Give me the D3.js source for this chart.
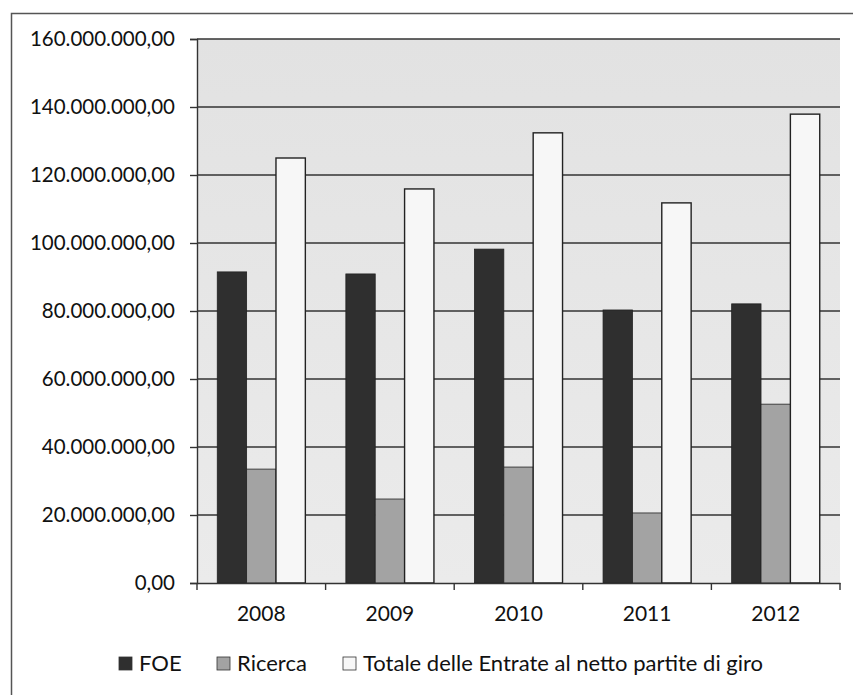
<!DOCTYPE html>
<html>
<head>
<meta charset="utf-8">
<script src="https://cdn.jsdelivr.net/npm/d3@7"></script>
<style>
  body { margin: 0; background: #fff; }
  text { font-family: Lato, "Open Sans", sans-serif; fill: #111; }
</style>
</head>
<body>
<script>
// data
const years = ['2008', '2009', '2010', '2011', '2012'];
const foe = [91.5e6, 90.9e6, 98.2e6, 80.3e6, 82.1e6];
const ricerca = [33.5e6, 24.7e6, 34.1e6, 20.6e6, 52.6e6];
const totale = [125.0e6, 115.9e6, 132.4e6, 111.8e6, 137.9e6];
const seriesNames = ['FOE', 'Ricerca', 'Totale delle Entrate al netto partite di giro'];
const yTicks = [0, 20e6, 40e6, 60e6, 80e6, 100e6, 120e6, 140e6, 160e6];

const width = 853, height = 695;
const colors = ['#2f2f2f', '#a3a3a3', '#f7f7f7'];
const series = [foe, ricerca, totale];

const svg = d3.select('body')
    .append('svg')
    .attr('width', width)
    .attr('height', height);

// outer frame (cropped at right/bottom)
svg.append('path')
    .attr('d', `M11.5,${height} V13.5 H${width}`)
    .attr('fill', 'none')
    .attr('stroke', '#555')
    .attr('stroke-width', 1.5);

const plotL = 197, plotR = 840, plotT = 39, plotB = 583;

const x = d3.scaleBand().domain(years).range([plotL, plotR]);
const inner = d3.scaleBand().domain(d3.range(3))
    .range([0, x.bandwidth()]).paddingOuter(0.69);
const y = d3.scaleLinear().domain([0, 160e6]).range([plotB, plotT]);

// plot background
const grad = svg.append('defs').append('linearGradient')
    .attr('id', 'bg').attr('x1', 0).attr('y1', 0).attr('x2', 0).attr('y2', 1);
grad.append('stop').attr('offset', 0).attr('stop-color', '#e2e2e2');
grad.append('stop').attr('offset', 1).attr('stop-color', '#ebebeb');

svg.append('rect')
    .attr('x', plotL).attr('y', plotT)
    .attr('width', plotR - plotL).attr('height', plotB - plotT)
    .attr('fill', 'url(#bg)');

// gridlines
svg.append('g')
    .selectAll('line')
    .data(yTicks.slice(1))
    .join('line')
        .attr('x1', plotL).attr('x2', plotR)
        .attr('y1', d => y(d)).attr('y2', d => y(d))
        .attr('stroke', '#333')
        .attr('stroke-width', 1.4);

// bars
svg.append('g')
    .selectAll('g')
    .data(series)
    .join('g')
        .attr('fill', (_, i) => colors[i])
    .each(function (vals, si) {
        d3.select(this).selectAll('rect')
            .data(vals)
            .join('rect')
                .attr('x', (_, i) => x(years[i]) + inner(si))
                .attr('y', d => y(d))
                .attr('width', inner.bandwidth())
                .attr('height', d => plotB - y(d))
                .attr('stroke', '#222')
                .attr('stroke-width', si === 2 ? 1.4 : 0.8);
    });

// y axis
const fmt = d3.formatLocale({ decimal: ',', thousands: '.', grouping: [3], currency: ['', ''] }).format(',.2f');
const yAxis = svg.append('g')
    .attr('transform', `translate(${plotL},0)`)
    .call(d3.axisLeft(y).tickValues(yTicks).tickFormat(fmt).tickSize(7).tickPadding(15));
yAxis.select('.domain').attr('stroke', '#333').attr('stroke-width', 1.4);
yAxis.selectAll('line').attr('stroke', '#333').attr('stroke-width', 1.4);
yAxis.selectAll('text').attr('font-size', 20.5).attr('fill', '#111');

// x axis
const xAxis = svg.append('g')
    .attr('transform', `translate(0,${plotB})`)
    .call(d3.axisBottom(x).tickSize(0).tickPadding(23));
xAxis.select('.domain').attr('stroke', '#333').attr('stroke-width', 1.4);
xAxis.selectAll('text').attr('font-size', 21).attr('fill', '#111');
// tick marks at category boundaries
xAxis.append('g')
    .selectAll('line')
    .data(years.map(d => x(d)).concat([plotR]))
    .join('line')
        .attr('x1', d => d).attr('x2', d => d)
        .attr('y1', 0).attr('y2', 7)
        .attr('stroke', '#333').attr('stroke-width', 1.4);

// legend
const legendX = [119, 217, 343];
const legend = svg.append('g')
    .selectAll('g')
    .data(seriesNames)
    .join('g')
        .attr('transform', (_, i) => `translate(${legendX[i]},657)`);
legend.append('rect')
    .attr('width', 13).attr('height', 13)
    .attr('fill', (_, i) => colors[i])
    .attr('stroke', '#333').attr('stroke-width', 0.8);
legend.append('text')
    .attr('x', 20).attr('y', 14)
    .attr('font-size', 22)
    .text(d => d);
</script>
</body>
</html>
